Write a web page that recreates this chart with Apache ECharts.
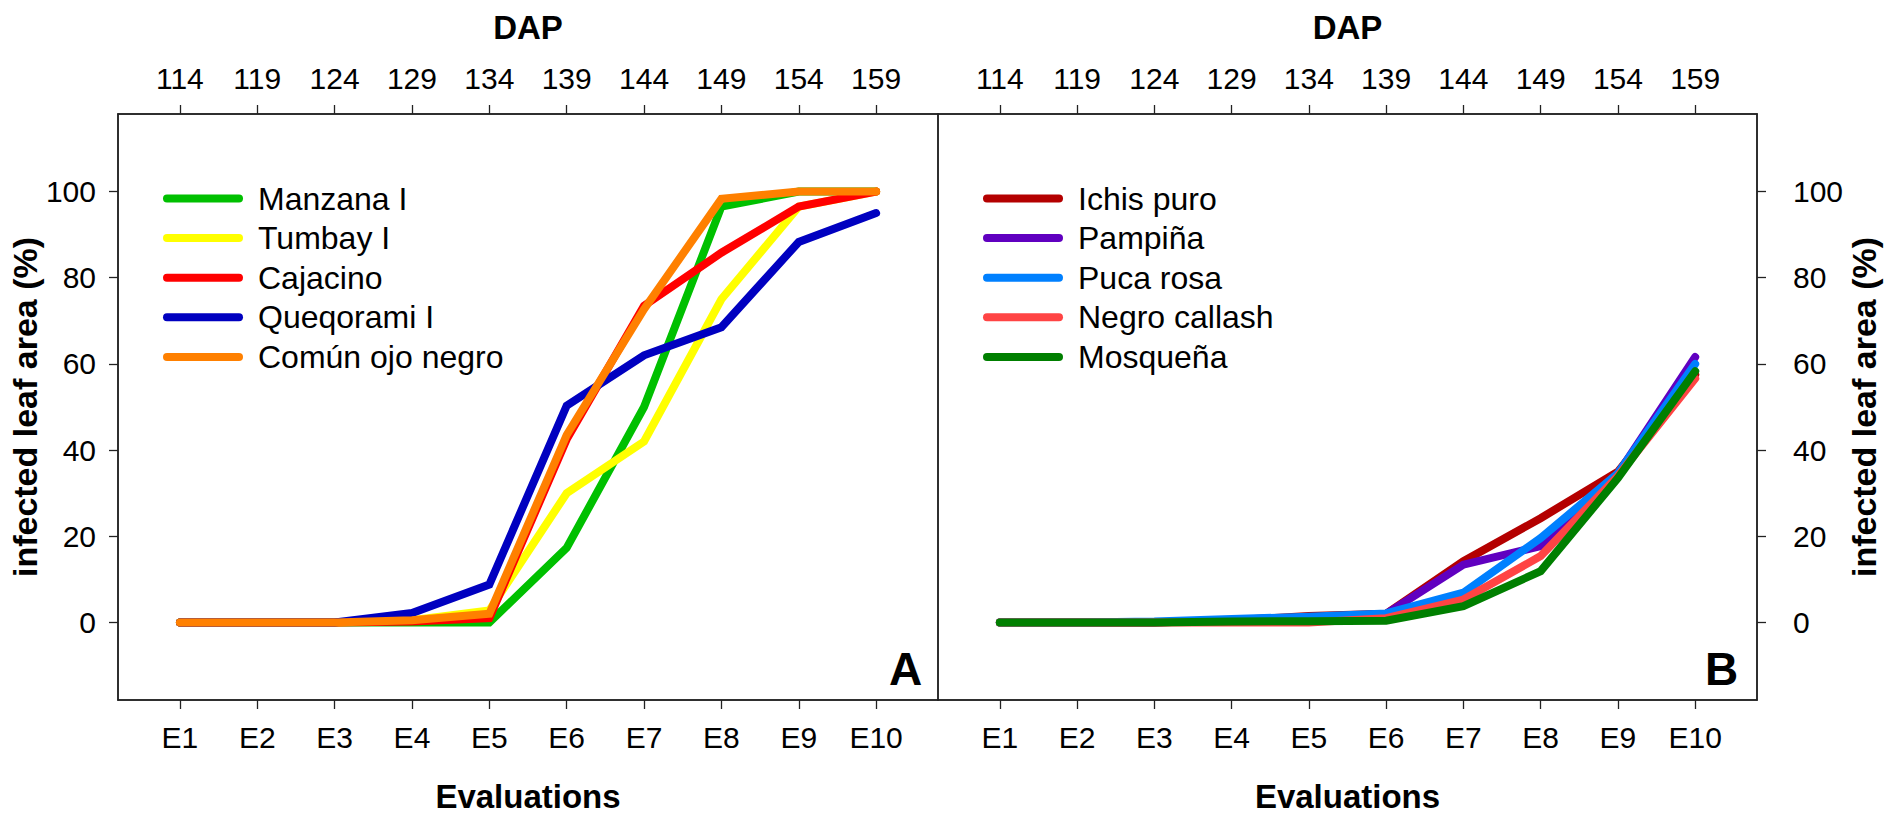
<!DOCTYPE html>
<html>
<head>
<meta charset="utf-8">
<script src="https://cdn.jsdelivr.net/npm/echarts@6/dist/echarts.min.js"></script>
<style>
html,body{margin:0;padding:0;background:#fff;}
#chart{width:1888px;height:818px;}
</style>
</head>
<body>
<div id="chart"></div>
<script>
// ---- data ----
const evaluations = ['E1','E2','E3','E4','E5','E6','E7','E8','E9','E10'];
const evalIndex = [1,2,3,4,5,6,7,8,9,10];
const dapLabels = ['114','119','124','129','134','139','144','149','154','159'];
const yTicks = [0,20,40,60,80,100];

// Panel A
const namesA = ['Manzana I','Tumbay I','Cajacino','Queqorami I','Común ojo negro'];
const manzana   = [0,0,0,0,0,17.3,50,96.5,100,100];
const tumbay    = [0,0,0,0.5,2.8,30,42,75,96.5,100];
const cajacino  = [0,0,0,0.2,1,42.5,73.5,85.8,96.5,100];
const queqorami = [0,0,0,2.2,8.8,50.3,62,68.5,88.3,95];
const comun     = [0,0,0,0.5,2,43.5,72.7,98.3,100,100];
const colorsA = ['#00C000','#FFFF00','#FF0000','#0000C0','#FF8000'];

// Panel B
const namesB = ['Ichis puro','Pampiña','Puca rosa','Negro callash','Mosqueña'];
const ichis    = [0,0,0,0.5,1.5,2,14.2,24.2,35,57.5];
const pampina  = [0,0,0,0.5,1,2,13.4,17.7,34.5,61.6];
const puca     = [0,0,0.2,0.8,1.3,2.1,6.9,19.6,34.6,60];
const negro    = [0,0,0,0,0,1,5.3,15.4,34,56.6];
const mosquena = [0,0,0,0.2,0.3,0.4,3.8,11.9,33.5,58.3];
const colorsB = ['#B40000','#6000C0','#0080FF','#FF4444','#007F00'];

// ---- chart ----
const FONT = '"Liberation Sans", Arial, sans-serif';
const valuesA = [manzana, tumbay, cajacino, queqorami, comun];
const valuesB = [ichis, pampina, puca, negro, mosquena];

function mkSeries(names, values, colors, idx){
  return names.map((n,i)=>({
    name:n, type:'line', xAxisIndex:idx*2, yAxisIndex:idx,
    data: evalIndex.map((x,k)=>[x, values[i][k]]),
    showSymbol:false, symbol:'none', z: 2+i,
    itemStyle:{color:colors[i]},
    lineStyle:{color:colors[i], width:8, cap:'round', join:'miter'},
    emphasis:{disabled:true}, animation:false
  }));
}

const grids = [
  {left:118, top:114, width:820, height:589},
  {left:938, top:114, width:819, height:589}
];

function xAxes(gi){
  const common = {
    type:'value', gridIndex:gi, min:0.2, max:10.8,
    splitLine:{show:false},
    axisLine:{show:true, onZero:false, lineStyle:{color:'#222', width:1.5}},
    axisTick:{show:true, customValues:evalIndex, length:9, lineStyle:{color:'#222', width:1.3}},
    nameLocation:'middle',
    nameTextStyle:{fontSize:33, fontWeight:'bold', color:'#000', fontFamily:FONT}
  };
  return [
    Object.assign({}, common, {
      position:'bottom',
      axisLabel:{customValues:evalIndex, formatter:v=>evaluations[Math.round(v)-1], margin:22, fontSize:30, color:'#000', fontFamily:FONT},
      name:'Evaluations', nameGap:80
    }),
    Object.assign({}, common, {
      position:'top',
      axisLabel:{customValues:evalIndex, formatter:v=>dapLabels[Math.round(v)-1], margin:21, fontSize:30, color:'#000', fontFamily:FONT},
      name:'DAP', nameGap:70
    })
  ];
}

function yAxis(gi, pos, margin, gap){
  return {
    type:'value', gridIndex:gi, position:pos, min:-18, max:118,
    splitLine:{show:false},
    axisLine:{show:true, onZero:false, lineStyle:{color:'#222', width:1.5}},
    axisTick:{show:true, customValues:yTicks, length:9, lineStyle:{color:'#222', width:1.3}},
    axisLabel:{customValues:yTicks, margin:margin, fontSize:30, color:'#000', fontFamily:FONT},
    name:'infected leaf area (%)', nameLocation:'middle', nameGap:gap, nameRotate:90,
    nameTextStyle:{fontSize:34, fontWeight:'bold', color:'#000', fontFamily:FONT}
  };
}

const legendIcon = 'path://M4,0 L76,0 A4,4 0 0 1 76,8 L4,8 A4,4 0 0 1 4,0 Z';
function mkLegend(names, left){
  return {
    orient:'vertical', left:left, top:173.7, itemWidth:80, itemHeight:8, itemGap:0,
    icon:legendIcon, selectedMode:false,
    textStyle:{fontSize:32, lineHeight:39.6, color:'#000', fontFamily:FONT, padding:[0,0,0,10]},
    data:names
  };
}

const chart = echarts.init(document.getElementById('chart'), null, {renderer:'svg'});
chart.setOption({
  animation:false,
  backgroundColor:'#fff',
  grid: grids.map(g=>Object.assign({show:true, borderColor:'#222', borderWidth:1.5, backgroundColor:'transparent'}, g)),
  xAxis: [...xAxes(0), ...xAxes(1)],
  yAxis: [yAxis(0,'left',22,74), yAxis(1,'right',36,90)],
  legend: [mkLegend(namesA,158), mkLegend(namesB,978)],
  series: [...mkSeries(namesA, valuesA, colorsA, 0), ...mkSeries(namesB, valuesB, colorsB, 1)],
  graphic: [
    {type:'text', left:889, top:646, style:{text:'A', fontSize:46, fontWeight:'bold', fill:'#000', fontFamily:FONT}},
    {type:'text', left:1705, top:646, style:{text:'B', fontSize:46, fontWeight:'bold', fill:'#000', fontFamily:FONT}}
  ]
});
</script>
</body>
</html>
